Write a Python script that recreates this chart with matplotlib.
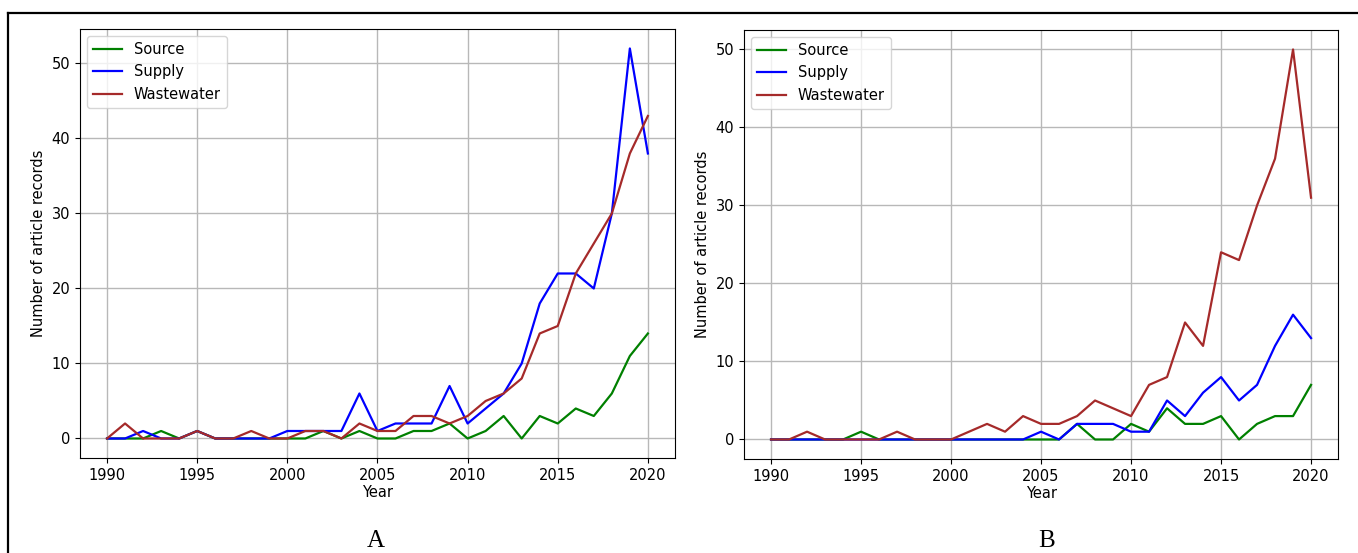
import matplotlib
matplotlib.use("Agg")
import matplotlib.pyplot as plt
from matplotlib.lines import Line2D

years = list(range(1990, 2021))

# panel A
source_a = [0, 0, 0, 1, 0, 1, 0, 0, 0, 0, 0, 0, 1, 0, 1,
            0, 0, 1, 1, 2, 0, 1, 3, 0, 3, 2, 4, 3, 6, 11, 14]
supply_a = [0, 0, 1, 0, 0, 1, 0, 0, 0, 0, 1, 1, 1, 1, 6,
            1, 2, 2, 2, 7, 2, 4, 6, 10, 18, 22, 22, 20, 30, 52, 38]
waste_a = [0, 2, 0, 0, 0, 1, 0, 0, 1, 0, 0, 1, 1, 0, 2,
           1, 1, 3, 3, 2, 3, 5, 6, 8, 14, 15, 22, 26, 30, 38, 43]

# panel B
source_b = [0, 0, 0, 0, 0, 1, 0, 0, 0, 0, 0, 0, 0, 0, 0,
            0, 0, 2, 0, 0, 2, 1, 4, 2, 2, 3, 0, 2, 3, 3, 7]
supply_b = [0, 0, 0, 0, 0, 0, 0, 0, 0, 0, 0, 0, 0, 0, 0,
            1, 0, 2, 2, 2, 1, 1, 5, 3, 6, 8, 5, 7, 12, 16, 13]
waste_b = [0, 0, 1, 0, 0, 0, 0, 1, 0, 0, 0, 1, 2, 1, 3,
           2, 2, 3, 5, 4, 3, 7, 8, 15, 12, 24, 23, 30, 36, 50, 31]

panels = [("A", source_a, supply_a, waste_a),
          ("B", source_b, supply_b, waste_b)]

plt.rcParams['font.size'] = 10.5

fig = plt.figure(figsize=(13.58, 5.53), dpi=100)
boxes = [[0.0589, 0.1718, 0.4381, 0.7758],
         [0.5479, 0.1700, 0.4374, 0.7758]]
tag_x = [376 / 1358, 1047 / 1358]

for box, tx, (tag, src, sup, ww) in zip(boxes, tag_x, panels):
    ax = fig.add_axes(box)
    ax.plot(years, src, color='green', lw=1.6, label='Source')
    ax.plot(years, sup, color='blue', lw=1.6, label='Supply')
    ax.plot(years, ww, color='brown', lw=1.6, label='Wastewater')
    ax.set_xticks(range(1990, 2021, 5))
    ax.grid(True, color='#b8b8b8', lw=1.0)
    ax.set_xlabel('Year', labelpad=2)
    ax.set_ylabel('Number of article records')
    ax.legend(loc='upper left')
    # panel letter under each subplot
    fig.text(tx, 1 - 541 / 553, tag, ha='center', va='center',
             fontsize=18, family='Liberation Serif')

# frame around the figure (left and top edges)
fig.add_artist(Line2D([8 / 1358, 8 / 1358], [0, 1 - 13 / 553],
                      transform=fig.transFigure, color='black', lw=1.6))
fig.add_artist(Line2D([8 / 1358, 1], [1 - 13 / 553, 1 - 13 / 553],
                      transform=fig.transFigure, color='black', lw=1.6))

fig.savefig('out.png', dpi=100)
